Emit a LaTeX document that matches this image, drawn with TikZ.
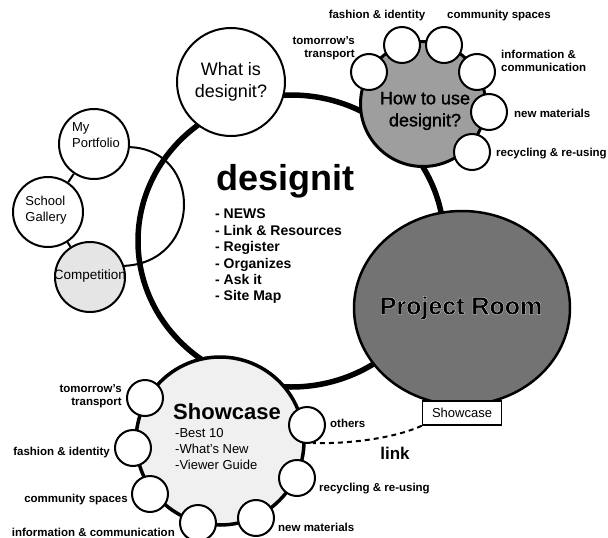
\documentclass[tikz,border=0pt]{standalone}
\usepackage{fontspec}
\setmainfont{Liberation Sans}
\newfontfamily\haloboldfont{Liberation Sans}[BoldFeatures={FakeBold=1.1}]
\newfontfamily\heavyfont{Liberation Sans}[FakeBold=1.4]
\usetikzlibrary{shapes.geometric}
\pgfdeclarelayer{bg}
\pgfsetlayers{bg,main}
\newcommand\whitestroke{\special{pdf:code 1 G}}
\tikzset{
  bub/.style={circle, draw, line width=2pt, fill=white, inner sep=0pt},
  smallbub/.style={bub, minimum size=36pt},
  lbl/.style={font=\fontsize{11.5}{13}\selectfont\bfseries, inner sep=0pt},
  txt/.style={inner sep=0pt},
  conn/.style={line width=2pt},
}
\begin{document}
\begin{tikzpicture}[x=1pt,y=-1pt]
\useasboundingbox (0,0) rectangle (608,538);

% --- main ring
\begin{pgfonlayer}{bg}
\draw[line width=5.5pt] (291,241) ellipse [x radius=153pt, y radius=146pt];
\end{pgfonlayer}

% --- centre text
\node[txt, anchor=west, font=\fontsize{36}{40}\selectfont\bfseries] (title) at (216,181) {designit};
\node[txt, anchor=north west, align=left, font=\fontsize{14}{16.4}\selectfont\bfseries] (menu) at (215,209)
  {- NEWS\\- Link \& Resources\\- Register\\- Organizes\\- Ask it\\- Site Map};

% --- What is designit
\node[bub, minimum size=108pt, align=center, font=\fontsize{18}{22}\selectfont] (what) at (231,82) {What is\\designit?};

% --- How to use designit
\node[bub, minimum size=125pt, fill=black!38, line width=3pt] (how) at (423,104) {};
\node[txt, align=center, font=\fontsize{18}{22}\selectfont\heavyfont] (howtxt) at (425,111) {How to use\\designit?};
\node[smallbub] (h1) at (369,72) {};
\node[smallbub] (h2) at (402,45) {};
\node[smallbub] (h3) at (444,45) {};
\node[smallbub] (h4) at (477,72) {};
\node[smallbub] (h5) at (489,112) {};
\node[smallbub] (h6) at (472,152) {};
\node[lbl, anchor=east, align=right] (h1l) at (355,48) {tomorrow's\\transport};
\node[lbl] (h2l) at (377,16) {fashion \& identity};
\node[lbl] (h3l) at (499,16) {community spaces};
\node[lbl, anchor=west, align=left] (h4l) at (501,61) {information \&\\communication};
\node[lbl, anchor=west] (h5l) at (514,113) {new materials};
\node[lbl, anchor=west] (h6l) at (496,154) {recycling \& re-using};

% --- Project Room
\node[ellipse, draw, line width=2.5pt, fill=black!55, minimum width=216pt, minimum height=194pt, inner sep=0pt] (proj) at (462,308) {};
\node[txt, font=\fontsize{25}{28}\selectfont\haloboldfont\bfseries] (projtxt) at (461,308) {\whitestroke Project Room};
\node[draw, line width=1.5pt, fill=white, minimum width=79pt, minimum height=24pt, inner sep=0pt, font=\fontsize{13}{15}\selectfont] (box) at (462,413) {Showcase};

% --- left group
\node[bub, minimum size=70pt] (mp) at (94,144) {};
\node[txt, align=left, font=\fontsize{13}{16}\selectfont] (mpt) at (96,135) {My\\Portfolio};
\node[bub, minimum size=70pt] (sg) at (48,212) {};
\node[txt, align=left, font=\fontsize{13}{16}\selectfont] (sgt) at (46,210) {School\\Gallery};
\node[bub, minimum size=70pt, fill=black!10] (comp) at (90,277) {};
\node[txt, font=\fontsize{13.5}{15}\selectfont] (compt) at (90,276) {Competition};
\begin{pgfonlayer}{bg}
\draw[conn] (mp) -- (sg);
\draw[conn] (sg) -- (comp);
\draw[conn] (mp.-5) .. controls (203,150) and (203,262) .. (comp.18);
\end{pgfonlayer}

% --- Showcase
\node[bub, minimum size=168pt, line width=3.5pt, fill=black!6] (show) at (220,441) {};
\node[txt, font=\fontsize{22}{24}\selectfont\bfseries] (showt) at (227,412) {Showcase};
\node[txt, anchor=north west, align=left, font=\fontsize{13}{16}\selectfont] (showl) at (175,428) {-Best 10\\-What's New\\-Viewer Guide};
\node[smallbub] (s1) at (145,398) {};
\node[smallbub] (s2) at (133,448) {};
\node[smallbub] (s3) at (150,494) {};
\node[smallbub] (s4) at (198,523) {};
\node[smallbub] (s5) at (256,518) {};
\node[smallbub] (s6) at (297,478) {};
\node[smallbub] (s7) at (307,425) {};
\node[lbl, anchor=east, align=right] (s1l) at (122,396) {tomorrow's\\transport};
\node[lbl, anchor=east] (s2l) at (110,453) {fashion \& identity};
\node[lbl, anchor=east] (s3l) at (128,500) {community spaces};
\node[lbl, anchor=east] (s4l) at (175,532) {information \& communication};
\node[lbl, anchor=west] (s5l) at (278,527) {new materials};
\node[lbl, anchor=west] (s6l) at (319,489) {recycling \& re-using};
\node[lbl, anchor=west] (s7l) at (330,423) {others};

% --- link
\coordinate (linkend) at (s7.-72);
\draw[line width=2pt, dash pattern=on 5pt off 4pt] (box.south west) .. controls (395,438) and (350,444) .. (linkend);
\node[txt, font=\fontsize{17}{19}\selectfont\bfseries] (link) at (395,453) {link};
\end{tikzpicture}
\end{document}
